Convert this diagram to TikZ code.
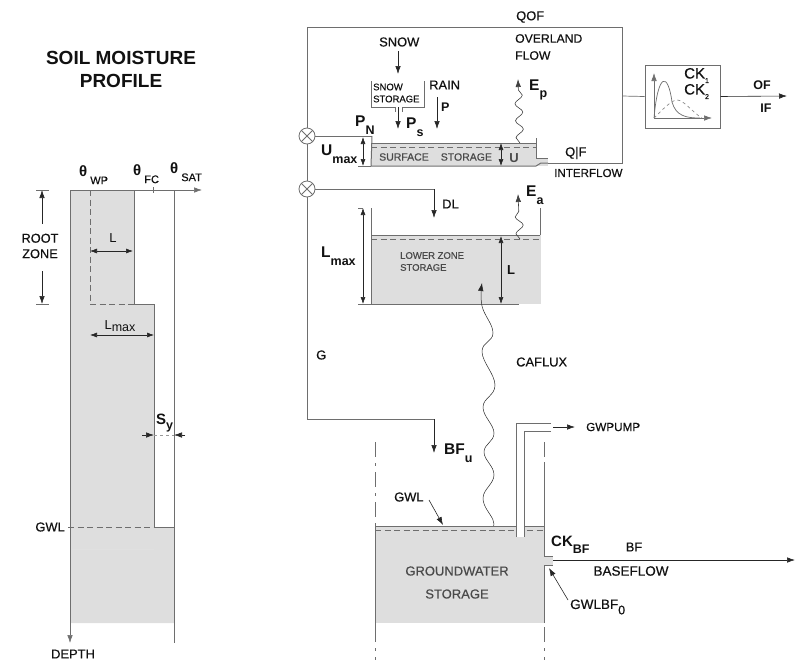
\documentclass[tikz,border=0pt]{standalone}
\usepackage{fontspec}
\setmainfont{Liberation Sans}
\newfontfamily\medfont{Liberation Sans}[FakeBold=0.5]
\usetikzlibrary{arrows.meta,decorations.pathmorphing}
\definecolor{soilFill}{HTML}{DEDEDE}
\definecolor{wallGray}{HTML}{6E6E6E}
\definecolor{labelDark}{HTML}{111111}
\definecolor{storeText}{HTML}{4A4A4A}
\newcommand{\subl}[3][-0.42em]{#2\raisebox{#1}{\fontsize{12.5}{14}\selectfont #3}}
\newcommand{\thetal}[1]{\textbf{θ}\hspace{3pt}\raisebox{-0.5em}{\fontsize{11}{13}\selectfont\medfont #1}}
\tikzset{
  lbl/.style={font=\fontsize{12.9}{15}\selectfont\medfont, text=labelDark, inner sep=0pt, anchor=west, align=left},
  lblbig/.style={font=\fontsize{15.5}{18}\selectfont\bfseries, text=labelDark, inner sep=0pt, anchor=west},
  lbltheta/.style={font=\fontsize{15}{18}\selectfont, text=labelDark, inner sep=0pt, anchor=west},
  storetxt/.style={font=\fontsize{#1}{12}\selectfont\medfont, text=storeText, inner sep=0pt, anchor=west, align=left},
  arrflow/.style={-{Latex[length=8pt,width=5.5pt]}, draw=black!85, line width=.6pt},
  arrboth/.style={{Latex[length=7pt,width=5pt]}-{Latex[length=7pt,width=5pt]}, draw=black!85, line width=.6pt},
  wall/.style={draw=wallGray, line width=1pt},
  thinwall/.style={draw=wallGray, line width=.7pt},
  level/.style={draw=wallGray, line width=1pt, dash pattern=on 6pt off 3.5pt},
  tankedge/.style={draw=wallGray, line width=1pt, dash pattern=on 15pt off 6pt on 3pt off 6pt},
  xsum/.style={circle, draw=wallGray, fill=white, line width=.8pt, minimum size=16pt, inner sep=0pt,
    path picture={\draw[wallGray, line width=.8pt] (path picture bounding box.north west) -- (path picture bounding box.south east)
      (path picture bounding box.north east) -- (path picture bounding box.south west);}},
  ckbox/.style={draw=wallGray, line width=1pt, fill=white, minimum width=75pt, minimum height=63pt, inner sep=0pt},
  evap/.style={-{Latex[length=8pt,width=5.5pt]}, draw=black!75, line width=.6pt, decorate,
    decoration={snake, amplitude=3.8pt, segment length=17pt, post length=9pt}},
}
\begin{document}
\begin{tikzpicture}[x=1pt,y=-1pt]
\useasboundingbox (0,0) rectangle (800,670);

\node[font=\fontsize{19}{23}\selectfont\bfseries, text=labelDark, align=center, inner sep=0pt] (soilTitle) at (121,69) {SOIL MOISTURE\\PROFILE};

\fill[soilFill] (70,190) -- (134,190) -- (134,304) -- (154,304) -- (154,527) -- (174,527) -- (174,623) -- (70,623) -- cycle;
\draw[thinwall, black!12] (72,549) -- (154,549);
\coordinate (axisOrigin) at (70,190);
\coordinate (axisEnd) at (202,190);
\coordinate (depthEnd) at (70,643);
\draw[arrflow, draw=wallGray] (axisOrigin) -- (axisEnd);
\draw[arrflow, draw=wallGray] (axisOrigin) -- (depthEnd);
\draw[thinwall] (153,187) -- (153,193);
\draw[wall] (174,190) -- (174,643);
\draw[thinwall] (134,190) -- (134,304) -- (154,304) -- (154,527) -- (174,527);
\draw[level] (90,190) -- (90,304) -- (134,304);
\node[lbltheta] (thetaWP) at (79,175) {\thetal{WP}};
\node[lbltheta] (thetaFC) at (133,174) {\thetal{FC}};
\node[lbltheta] (thetaSAT) at (170,172) {\thetal{SAT}};

\node[lbl, align=center, anchor=center, font=\fontsize{12.8}{15.5}\selectfont\medfont] (rootZone) at (40,246) {ROOT\\ZONE};
\coordinate (rootTop) at (42,190);
\coordinate (rootBot) at (42,304);
\draw[arrflow] (42,224) -- (rootTop);
\draw[arrflow] (42,271) -- (rootBot);
\draw[thinwall] (36,190) -- (49,190);
\draw[thinwall] (36,304) -- (49,304);
\node[lbl, anchor=center, font=\fontsize{13}{15}\selectfont] (lLeft) at (113,238) {L};
\draw[arrboth] (90,251) -- (133,251);
\node[lbl, anchor=center, font=\fontsize{13}{15}\selectfont] (lmaxLeft) at (120,326) {\subl[-0.2em]{L}{max}};
\draw[arrboth] (90,335) -- (154,335);
\node[lbltheta, font=\fontsize{15}{18}\selectfont\bfseries] (syLabel) at (156,423) {\subl[-0.35em]{S}{\bfseries y}};
\draw[arrflow] (142,435) -- (154,435);
\draw[arrflow] (185,435) -- (174,435);
\draw[thinwall, dashed, black!40] (154,435) -- (174,435);
\node[lbl, anchor=east] (gwlLeft) at (65,527) {GWL};
\draw[level] (gwlLeft.east) ++(3,0) -- (154,527);
\node[lbl, anchor=center] (depthLabel) at (73,654) {DEPTH};

\coordinate (topLeft) at (307,27);
\coordinate (topRight) at (622,27);
\coordinate (ifCorner) at (622,163);
\coordinate (gCorner) at (307,419);
\coordinate (surfIn) at (372,136);
\coordinate (dlBend) at (434,189);
\coordinate (dlTip) at (434,218);
\coordinate (bfuBend) at (434,419);
\coordinate (bfuTip) at (434,453);
\node[xsum] (xsumA) at (307,136) {};
\node[xsum] (xsumB) at (307,189) {};
\draw[thinwall] (xsumA) -- (topLeft) -- (topRight) -- (ifCorner) -- (548,163);
\draw[thinwall] (xsumA) -- (xsumB);
\draw[thinwall] (xsumB) -- (gCorner) -- (bfuBend);
\draw[thinwall] (xsumA) -- (surfIn);
\draw[thinwall] (xsumB) -- (dlBend);
\draw[arrflow] (dlBend) -- (dlTip);
\draw[arrflow] (bfuBend) -- (bfuTip);

\node[lbl] (snowLabel) at (379,42) {SNOW};
\draw[arrflow] (398,51) -- (398,74);
\draw[thinwall] (371,81) -- (371,107) -- (395,107) -- (395,112);
\draw[thinwall] (424,81) -- (424,107) -- (402,107) -- (402,112);
\node[storetxt=9.5, text=labelDark] (snowStore) at (373,93) {SNOW\\STORAGE};
\draw[arrflow] (398,107) -- (398,129);
\node[lblbig] (psLabel) at (406,127) {\subl[-0.5em]{P}{\bfseries s}};
\node[lbl] (rainLabel) at (429,85) {RAIN};
\draw[arrflow] (437,97) -- (437,129);
\node[lbl, font=\fontsize{12.5}{15}\selectfont\bfseries] (pLabel) at (441,107) {P};
\node[lblbig] (pnLabel) at (355,125) {\subl[-0.5em]{P}{\bfseries N}};

\fill[soilFill] (371,143) rectangle (536,166);
\fill[soilFill] (536,158) rectangle (548,166);
\draw[wall] (surfIn) -- (371,166) -- (536,166);
\draw[wall] (536,138) -- (536,158) -- (548,158);
\draw[wall] (536,166) -- (541,163) -- (548,163);
\draw[thinwall] (371,143) -- (536,143);
\draw[level] (371,147) -- (536,147);
\node[storetxt=10.5] (surfText) at (379,157) {SURFACE\hspace{12pt}STORAGE};
\node[lbl, anchor=center, font=\fontsize{13}{15}\selectfont\bfseries, text=storeText] (uSurf) at (514,158) {U};
\draw[arrboth] (501,143) -- (501,166);
\draw[arrboth] (363,137) -- (363,166);
\draw[thinwall] (358,136) -- (371,136);
\draw[thinwall] (358,166) -- (371,166);
\node[lblbig] (umaxLabel) at (321,154) {\subl[-0.5em]{U}{\bfseries max}};
\coordinate (epFoot) at (520,143);
\coordinate (epTip) at (518,79);
\draw[evap] (epFoot) -- (epTip);
\node[lblbig] (epLabel) at (529,90) {\subl[-0.5em]{E}{\bfseries p}};

\node[lbl] (qofLabel) at (516,17) {QOF};
\node[lbl, font=\fontsize{12.2}{15}\selectfont\medfont] (overlandLabel) at (515,47) {OVERLAND\\[2pt]FLOW};
\node[lbl] (qfLabel) at (565,153) {Q|F};
\node[lbl, font=\fontsize{11.6}{15}\selectfont\medfont] (interflowLabel) at (554,173) {INTERFLOW};

\node[ckbox] (ckBox) at (682.5,96.5) {};
\coordinate (ckIn) at (622,96);
\coordinate (ofTip) at (787,96);
\draw[thinwall] (ckIn) -- (ckBox.west);
\draw[arrflow] (ckBox.east) -- (ofTip);
\draw[arrflow, draw=wallGray] (654,118) -- (654,73);
\draw[arrflow, draw=wallGray] (654,118) -- (712,118);
\draw[thinwall] (654,118) .. controls (658,72) and (668,72) .. (672,102) .. controls (676,116) and (686,118) .. (700,118);
\draw[thinwall, dashed, black!45] (654,118) .. controls (664,108) and (672,100) .. (677,100) .. controls (684,100) and (692,112) .. (702,118);
\node[lbl, font=\fontsize{15}{16}\selectfont\medfont, align=left] (ckOneTwo) at (684,83.5) {\subl[-0.3em]{CK}{\fontsize{7}{8}\selectfont 1}\\\subl[-0.3em]{CK}{\fontsize{7}{8}\selectfont 2}};
\node[lbl, anchor=center, font=\fontsize{12.5}{15}\selectfont\bfseries] (ofLabel) at (762,85) {OF};
\node[lbl, anchor=center, font=\fontsize{12.5}{15}\selectfont\bfseries] (ifLabel) at (766,108) {IF};

\node[lbl] (dlLabel) at (442,204) {DL};
\fill[soilFill] (371,235) rectangle (541,304);
\draw[wall] (371,208) -- (371,304) -- (519,304);
\draw[wall] (540,208) -- (540,235);
\draw[thinwall] (371,235) -- (540,235);
\draw[level] (371,239) -- (541,239);
\node[storetxt=9.5] (lowerText) at (400,261.5) {LOWER ZONE\\STORAGE};
\draw[arrboth] (363,208) -- (363,304);
\draw[thinwall] (358,208) -- (363,208);
\draw[thinwall] (358,304) -- (371,304);
\node[lblbig] (lmaxLabel) at (321,256) {\subl[-0.5em]{L}{\bfseries max}};
\draw[arrboth] (501,236) -- (501,304);
\node[lbl, anchor=center, font=\fontsize{13}{15}\selectfont\bfseries] (lRight) at (511,270) {L};
\coordinate (eaFoot) at (520,239);
\coordinate (eaTip) at (518,194);
\draw[evap] (eaFoot) -- (eaTip);
\node[lblbig] (eaLabel) at (526,195) {\subl[-0.5em]{E}{\bfseries a}};

\coordinate (cafluxFoot) at (493,527);
\coordinate (cafluxTip) at (482,283);
\draw[arrflow, line width=.5pt] plot[smooth, tension=.7] coordinates {(cafluxFoot) (493,520) (483,498) (494,475) (484,452) (494,433) (483,407) (495,385) (482,352) (493,333) (482,306) (cafluxTip)};
\node[lbl] (cafluxLabel) at (516,362) {CAFLUX};
\node[lbl] (gLabel) at (316,355) {G};

\fill[soilFill] (375,526) rectangle (544,623);
\fill[soilFill] (544,556) rectangle (553,565);
\draw[thinwall] (375,526) -- (544,526);
\draw[level] (375,530) -- (544,530);
\draw[wall] (375,526) -- (375,627);
\draw[wall] (544,462) -- (544,556) -- (553,556);
\draw[wall] (544,623) -- (544,565) -- (553,565);
\draw[tankedge] (375,442) -- (375,526);
\draw[tankedge] (375,627) -- (375,660);
\draw[tankedge] (544,442) -- (544,462);
\draw[tankedge] (544,627) -- (544,660);
\fill[white] (516.5,524) rectangle (523.5,537);
\draw[wall] (551,423) -- (516,423) -- (516,537);
\draw[wall] (551,431) -- (524,431) -- (524,537);
\coordinate (pumpOut) at (553,427);
\node[lbl, font=\fontsize{11.7}{15}\selectfont\medfont] (pumpLabel) at (586,427) {GWPUMP};
\draw[arrflow] (pumpOut) -- (575,427);
\node[lbl] (gwlRight) at (394,497) {GWL};
\coordinate (gwlPoint) at (443,525);
\draw[arrflow] (429,500) -- (gwlPoint);
\node[storetxt=13, align=center, anchor=center, font=\fontsize{13}{23}\selectfont\medfont] (gwText) at (457,582.5) {GROUNDWATER\\STORAGE};
\node[lblbig, font=\fontsize{15}{18}\selectfont\bfseries] (ckbfLabel) at (551,545) {\subl[-0.45em]{CK}{\bfseries BF}};
\node[lbl, font=\fontsize{13.5}{15}\selectfont\medfont] (gwlbfLabel) at (570,607) {\subl[-0.4em]{GWLBF}{\medfont 0}};
\draw[arrflow] (568,600) -- (549,568);
\coordinate (bfStart) at (553,560);
\coordinate (bfTip) at (795,560);
\draw[arrflow] (bfStart) -- (bfTip);
\node[lbl, anchor=center] (bfLabel) at (634,547) {BF};
\node[lbl, anchor=center, font=\fontsize{13.5}{15}\selectfont\medfont] (baseflowLabel) at (631,571) {BASEFLOW};
\node[lblbig] (bfuLabel) at (444,453) {\subl[-0.5em]{BF}{\bfseries u}};
\end{tikzpicture}
\end{document}
